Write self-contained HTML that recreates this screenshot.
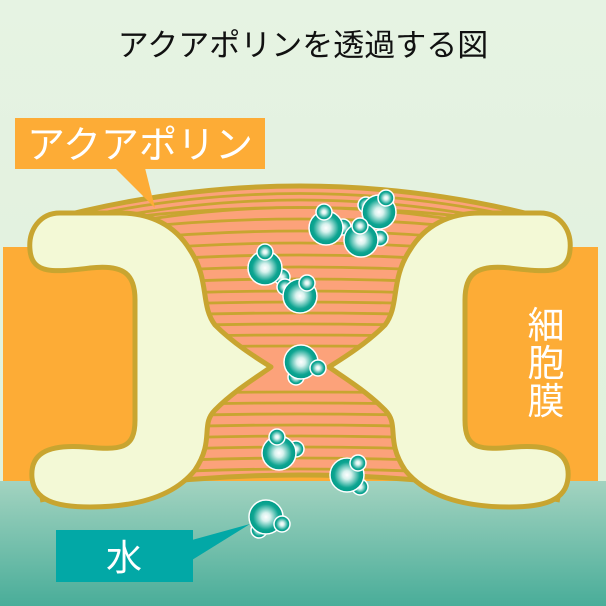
<!DOCTYPE html>
<html><head><meta charset="utf-8"><style>
html,body{margin:0;padding:0;width:606px;height:606px;overflow:hidden}
svg{display:block}
text{font-family:"Liberation Sans","Noto Sans CJK JP",sans-serif}
</style></head><body>
<svg width="606" height="606" viewBox="0 0 606 606" xmlns="http://www.w3.org/2000/svg">
<defs>
<linearGradient id="bg1" x1="0" y1="0" x2="0" y2="1"><stop offset="0" stop-color="#e6f3e3"/><stop offset="1" stop-color="#e0f1dc"/></linearGradient>
<linearGradient id="bg2" x1="0" y1="0" x2="0" y2="1"><stop offset="0" stop-color="#a3d3c0"/><stop offset="1" stop-color="#49ad99"/></linearGradient>
<radialGradient id="ball" cx="0.5" cy="0.5" r="0.5"><stop offset="0" stop-color="#ffffff"/><stop offset="0.25" stop-color="#d8f2ee"/><stop offset="0.75" stop-color="#0fa592"/><stop offset="1" stop-color="#009c88"/></radialGradient>
<clipPath id="pc"><path d="M40,222 Q300,150 560,222 L560,262 L450,262 L450,455 L560,455 L560,500 Q300,450 40,500 L40,455 L150,455 L150,262 L40,262 Z"/></clipPath>
<g id="prot">
<path d="M60,213 C40,213 28,230 30,250 C32,275 55,272 90,268 C125,264 135,275 135,300 L135,420 C135,450 120,450 85,447 C45,444 30,455 32,478 C34,500 55,507 90,507 C140,507 175,495 195,470 C215,440 200,425 215,410 C235,390 260,375 271,367 C260,360 235,345 215,325 C200,305 210,280 190,250 C175,225 150,213 120,213 Z" fill="#f3f9d6" stroke="#c8a530" stroke-width="5" stroke-linejoin="round"/>
</g>
</defs>
<rect x="0" y="0" width="606" height="481" fill="url(#bg1)"/>
<rect x="0" y="481" width="606" height="125" fill="url(#bg2)"/>
<rect x="3" y="247" width="595" height="234" fill="#fdac36"/>
<text x="303" y="56" font-size="31" text-anchor="middle" fill="#111">アクアポリンを透過する図</text>
<path d="M40,222 Q300,150 560,222 L560,262 L450,262 L450,455 L560,455 L560,500 Q300,450 40,500 L40,455 L150,455 L150,262 L40,262 Z" fill="#fca27a"/>
<path d="M40,222 Q300,150 560,222" fill="none" stroke="#c8a530" stroke-width="5"/>
<path d="M40,500 Q300,450 560,500" fill="none" stroke="#c8a530" stroke-width="5"/>
<g clip-path="url(#pc)" fill="none" stroke="#c8a530" stroke-width="2.8">
<path d="M60,222 Q300,165 540,222"/><path d="M80,224 Q300,176 520,224"/><path d="M100,228 Q300,187 500,228"/>
<path d="M40,230 Q300,185 560,230"/><path d="M40,240 Q300,198 560,240"/><path d="M40,250 Q300,212 560,250"/><path d="M40,260 Q300,226 560,260"/><path d="M40,270 Q300,240 560,270"/><path d="M40,280 Q300,254 560,280"/><path d="M40,290 Q300,268 560,290"/><path d="M40,300 Q300,282 560,300"/><path d="M40,310 Q300,294 560,310"/><path d="M40,320 Q300,306 560,320"/><path d="M40,330 Q300,318 560,330"/><path d="M40,340 Q300,330 560,340"/><path d="M40,350 Q300,342 560,350"/><path d="M40,396 Q300,388 560,396"/><path d="M40,408 Q300,398 560,408"/><path d="M40,420 Q300,408 560,420"/><path d="M40,432 Q300,418 560,432"/><path d="M40,444 Q300,428 560,444"/><path d="M40,456 Q300,438 560,456"/><path d="M40,468 Q300,448 560,468"/><path d="M40,480 Q300,458 560,480"/><path d="M40,492 Q300,468 560,492"/>
</g>
<use href="#prot"/>
<use href="#prot" transform="translate(600,0) scale(-1,1)"/>
<rect x="15" y="118" width="250" height="51" fill="#fdac36"/>
<path d="M115,168 L145,168 L155,208 Z" fill="#fdac36"/>
<text x="140" y="158" font-size="38" text-anchor="middle" fill="#fff">アクアポリン</text>
<rect x="56" y="530" width="137" height="52" fill="#02a8a6"/>
<path d="M192,540 L192,560 L250,524 Z" fill="#02a8a6"/>
<text x="124" y="570" font-size="36" text-anchor="middle" fill="#fff">水</text>
<text font-size="37" fill="#fff" text-anchor="middle"><tspan x="546" y="338">細</tspan><tspan x="546" y="376">胞</tspan><tspan x="546" y="414">膜</tspan></text>
<g stroke="#fff" stroke-width="1.5" fill="url(#ball)">
<circle cx="343" cy="227" r="8"/><circle cx="326" cy="228" r="17"/><circle cx="324" cy="212" r="8"/>
<circle cx="366" cy="205" r="8"/><circle cx="379" cy="212" r="17"/><circle cx="386" cy="198" r="8"/>
<circle cx="380" cy="238" r="8"/><circle cx="361" cy="240" r="17"/><circle cx="360" cy="226" r="8"/>
<circle cx="282" cy="277" r="8"/><circle cx="265" cy="268" r="17"/><circle cx="265" cy="252" r="8"/>
<circle cx="285" cy="287" r="8"/><circle cx="300" cy="296" r="17"/><circle cx="307" cy="283" r="8"/>
<circle cx="296" cy="377" r="8"/><circle cx="301" cy="362" r="17"/><circle cx="318" cy="368" r="8"/>
<circle cx="296" cy="449" r="8"/><circle cx="279" cy="453" r="17"/><circle cx="277" cy="437" r="8"/>
<circle cx="360" cy="487" r="8"/><circle cx="347" cy="475" r="17"/><circle cx="358" cy="463" r="8"/>
<circle cx="259" cy="530" r="8"/><circle cx="266" cy="517" r="17"/><circle cx="282" cy="524" r="8"/>
</g>
</svg>
</body></html>
